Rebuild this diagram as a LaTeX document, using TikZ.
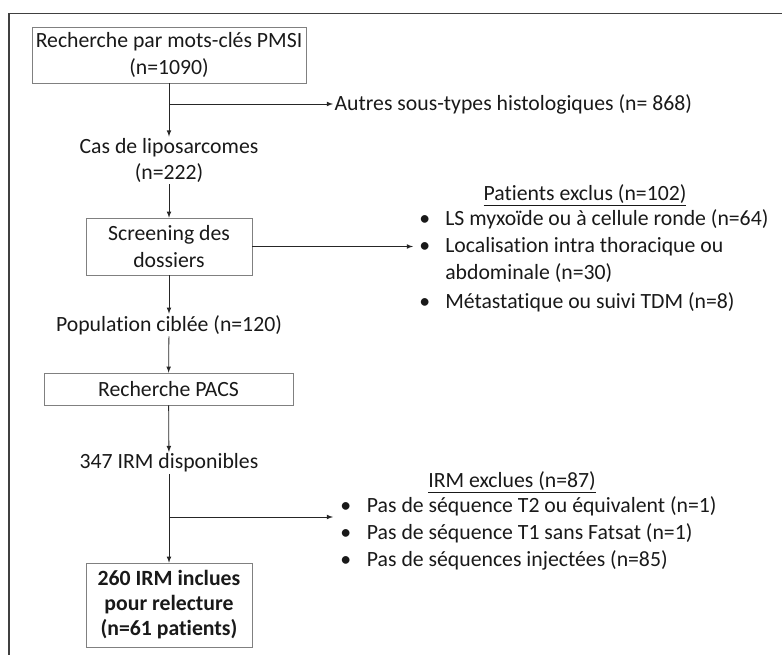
\documentclass[tikz,border=0pt]{standalone}
\usepackage{fontspec}
\setmainfont{Carlito}[Ligatures=NoCommon]
\usepackage{tikz}
\usetikzlibrary{positioning,arrows}

\begin{document}
\begin{tikzpicture}[x=0.75pt,y=-0.75pt,>=latex,
    every node/.style={font=\fontsize{16.3}{20}\selectfont,inner sep=1pt,text=black!90},
    box/.style={draw=black!50,align=center,inner sep=0pt},
    lbl/.style={align=center},
    flow/.style={->,draw=black!85,line width=0.6pt}]
    \useasboundingbox (0,0) rectangle (782,655);
    \draw[black!75,line width=1pt] (9,655) -- (9,13.5) -- (782,13.5);
    % main column
    \node[box,minimum width=205.5pt,minimum height=42pt] (pmsi) at (169,55) {Recherche par mots-cl\'es PMSI\\(n=1090)};
    \node[lbl] (lipo) at (169,160.5) {Cas de liposarcomes\\(n=222)};
    \node[box,minimum width=124.5pt,minimum height=42.75pt] (screen) at (169,246.5) {Screening des\\dossiers};
    \node[lbl] (pop) at (169,325) {Population cibl\'ee (n=120)};
    \node[box,minimum width=186.75pt,minimum height=24pt] (pacs) at (168.5,389) {Recherche PACS};
    \node[lbl] (irm) at (169,463) {347 IRM disponibles};
    \node[box,minimum width=124.5pt,minimum height=63pt,font=\fontsize{16.3}{18.75}\selectfont\bfseries] (incl) at (169,605) {260 IRM inclues\\pour relecture\\(n=61 patients)};
    % exclusions
    \node[anchor=west] (autres) at (333,104) {Autres sous-types histologiques (n= 868)};
    \node (extitle) at (585,195) {\underline{Patients exclus (n=102)}};
    \node[anchor=base west,inner sep=0pt] (exlist) at (419,226) {\begin{tabular}[t]{@{}p{19.5pt}@{}l@{}}
        \textbullet & LS myxo\"ide ou \`a cellule ronde (n=64)\\
        \textbullet & Localisation intra thoracique ou\\
        & abdominale (n=30)\\[2pt]
        \textbullet & M\'etastatique ou suivi TDM (n=8)
      \end{tabular}};
    \node (irmtitle) at (512,482) {\underline{IRM exclues (n=87)}};
    \node[anchor=base west,inner sep=0pt] (irmlist) at (340,513) {\begin{tabular}[t]{@{}p{20pt}@{}l@{}}
        \textbullet & Pas de s\'equence T2 ou \'equivalent (n=1)\\
        \textbullet & Pas de s\'equence T1 sans Fatsat (n=1)\\
        \textbullet & Pas de s\'equences inject\'ees (n=85)
      \end{tabular}};
    \coordinate (split1) at (169,104);
    \coordinate (split2) at (169,517);
    \coordinate (exend) at (413,246.5);
    \coordinate (irmend) at (333,517);
    % connectors
    \draw[flow] (pmsi) -- (lipo);
    \draw[flow] (split1) -- (autres);
    \draw[flow] (lipo) -- (screen);
    \draw[flow] (screen) -- (exend);
    \draw[flow] (screen) -- (pop);
    \draw[flow] (pop) -- (pacs);
    \draw[flow] (pacs) -- (irm);
    \draw[flow] (irm) -- (incl);
    \draw[flow] (split2) -- (irmend);
\end{tikzpicture}
\end{document}
